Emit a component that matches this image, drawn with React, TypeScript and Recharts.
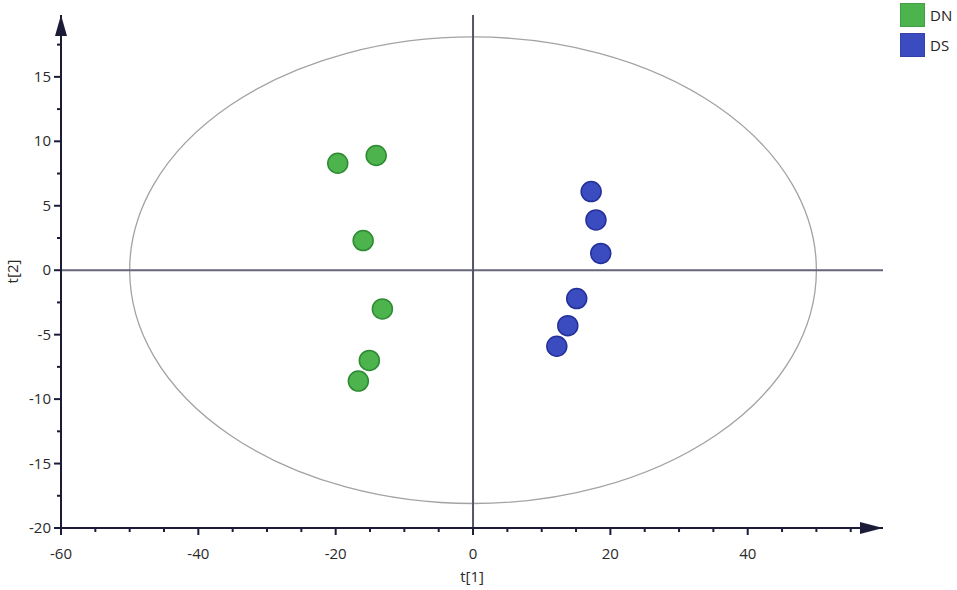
import React from 'react';
import {
  ScatterChart, Scatter, XAxis, YAxis, ReferenceLine, ReferenceArea, ReferenceDot,
} from 'recharts';

// score plot, t[1] vs t[2]
const dnScores = [
  { x: -19.7, y: 8.3 },
  { x: -14.1, y: 8.9 },
  { x: -16.0, y: 2.3 },
  { x: -13.2, y: -3.0 },
  { x: -15.1, y: -7.0 },
  { x: -16.7, y: -8.6 },
];
const dsScores = [
  { x: 17.2, y: 6.1 },
  { x: 17.9, y: 3.9 },
  { x: 18.6, y: 1.3 },
  { x: 15.1, y: -2.2 },
  { x: 13.8, y: -4.3 },
  { x: 12.2, y: -5.9 },
];
const groups = [
  { name: 'DN', fill: '#4db34d', stroke: '#2e8a32' },
  { name: 'DS', fill: '#3a4cbf', stroke: '#24309a' },
];
const xTicks = [-60, -55, -50, -45, -40, -35, -30, -25, -20, -15, -10, -5, 0, 5, 10, 15, 20, 25, 30, 35, 40, 45, 50, 55];
const xLabels = [-60, -40, -20, 0, 20, 40];
const yTicks = [-20, -17.5, -15, -12.5, -10, -7.5, -5, -2.5, 0, 2.5, 5, 7.5, 10, 12.5, 15, 17.5];
const yLabels = [-20, -15, -10, -5, 0, 5, 10, 15];
// T2 ellipse half-axes
const ellipseX = 50;
const ellipseY = 18.1;

const xMin = -60, xMax = 59.7;
const yMin = -20, yMax = 19.8;

const axisColor = '#1c1c38';
const font = '"Open Sans", "Noto Sans", sans-serif';

const XTick = (props: any) => {
  const { x, y, payload } = props;
  const major = xLabels.includes(payload.value);
  return (
    <g>
      <line x1={x} x2={x} y1={y} y2={y + (major ? 7 : 4)} stroke={axisColor} strokeWidth={2} />
      {major && (
        <text x={x} y={y + 31} textAnchor="middle" fontSize={15} fill="#2a2a2a" fontFamily={font}>
          {payload.value}
        </text>
      )}
    </g>
  );
};

const YTick = (props: any) => {
  const { x, y, payload } = props;
  const major = yLabels.includes(payload.value);
  return (
    <g>
      <line x1={x - (major ? 7 : 4)} x2={x} y1={y} y2={y} stroke={axisColor} strokeWidth={2} />
      {major && (
        <text x={x - 10} y={y + 5} textAnchor="end" fontSize={15} fill="#2a2a2a" fontFamily={font}>
          {payload.value}
        </text>
      )}
    </g>
  );
};

const dot = (fill: string, stroke: string) => (p: any) => (
  <circle cx={p.cx} cy={p.cy} r={10} fill={fill} stroke={stroke} strokeWidth={1.5} />
);

export default function App() {
  return (
    <div style={{ position: 'absolute', left: 0, top: 0, background: '#fff' }}>
      <ScatterChart width={957} height={590} margin={{ top: 15, right: 74, bottom: 0, left: 0 }}>
        <XAxis
          type="number"
          dataKey="x"
          domain={[xMin, xMax]}
          ticks={xTicks}
          interval={0}
          tickSize={0}
          tickMargin={0}
          tick={<XTick />}
          height={62}
          axisLine={{ stroke: axisColor, strokeWidth: 2 }}
          label={{
            content: ({ viewBox }: any) => (
              <text x={viewBox.x + viewBox.width / 2} y={viewBox.y + 54} textAnchor="middle" fontSize={15} fill="#2a2a2a" fontFamily={font}>t[1]</text>
            ),
          }}
        />
        <YAxis
          type="number"
          dataKey="y"
          domain={[yMin, yMax]}
          ticks={yTicks}
          interval={0}
          tickSize={0}
          tickMargin={0}
          tick={<YTick />}
          width={61}
          axisLine={{ stroke: axisColor, strokeWidth: 2 }}
          label={{
            content: ({ viewBox }: any) => {
              const cx = viewBox.x + 18;
              const cy = viewBox.y + viewBox.height / 2;
              return (
                <text x={cx} y={cy} transform={`rotate(-90, ${cx}, ${cy})`} textAnchor="middle" fontSize={15} fill="#2a2a2a" fontFamily={font}>t[2]</text>
              );
            },
          }}
        />
        <ReferenceArea
          x1={-ellipseX}
          x2={ellipseX}
          y1={-ellipseY}
          y2={ellipseY}
          ifOverflow="visible"
          shape={(p: any) => (
            <ellipse cx={p.x + p.width / 2} cy={p.y + p.height / 2} rx={p.width / 2} ry={p.height / 2} fill="none" stroke="#a3a3a3" strokeWidth={1.3} />
          )}
        />
        <ReferenceLine y={0} stroke="#66667a" strokeWidth={2} />
        <ReferenceLine x={0} stroke="#55556a" strokeWidth={2} />
        <ReferenceDot
          x={xMin}
          y={yMax}
          ifOverflow="visible"
          shape={(p: any) => <path d={`M${p.cx},${p.cy} L${p.cx - 6},${p.cy + 21} L${p.cx + 6},${p.cy + 21} Z`} fill={axisColor} />}
        />
        <ReferenceDot
          x={xMax}
          y={yMin}
          ifOverflow="visible"
          shape={(p: any) => <path d={`M${p.cx},${p.cy} L${p.cx - 23},${p.cy - 6} L${p.cx - 23},${p.cy + 6} Z`} fill={axisColor} />}
        />
        <Scatter name={groups[0].name} data={dnScores} fill={groups[0].fill} shape={dot(groups[0].fill, groups[0].stroke)} isAnimationActive={false} />
        <Scatter name={groups[1].name} data={dsScores} fill={groups[1].fill} shape={dot(groups[1].fill, groups[1].stroke)} isAnimationActive={false} />
      </ScatterChart>
      <div style={{ position: 'absolute', top: 0, left: 900, fontFamily: font, fontSize: 15, color: '#222' }}>
        {groups.map((g) => (
          <div key={g.name} style={{ display: 'flex', alignItems: 'center', height: 30 }}>
            <span style={{ width: 25, height: 24, background: g.fill, border: '1px solid rgba(0,0,0,0.12)', marginRight: 5, boxSizing: 'border-box' }} />
            {g.name}
          </div>
        ))}
      </div>
    </div>
  );
}
